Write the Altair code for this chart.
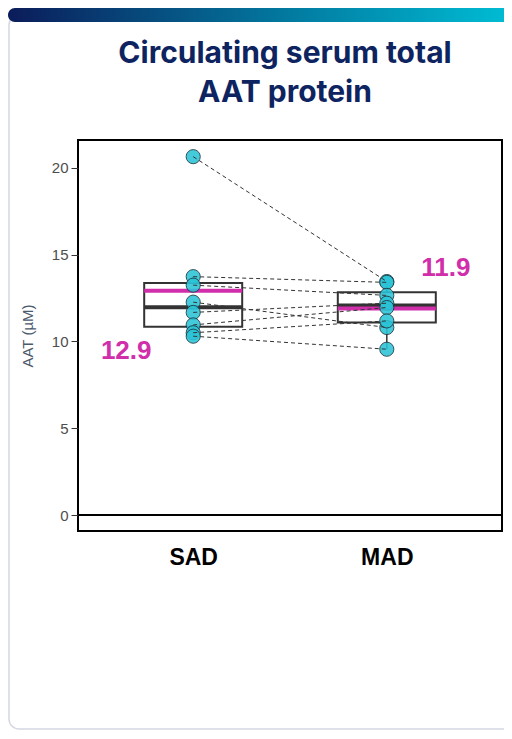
import altair as alt
import pandas as pd

# ---- data ----
groups = ["SAD", "MAD"]
subjects = [1, 2, 3, 4, 5, 6, 7, 8]
sad_values = [20.64, 13.73, 13.24, 12.26, 11.67, 10.95, 10.5, 10.3]
mad_values = [13.45, 13.4, 12.65, 10.8, 12.2, 11.95, 11.18, 9.55]
y_ticks = [0, 5, 10, 15, 20]
title_line1 = "Circulating serum total"
title_line2 = "AAT protein"
y_title = "AAT (µM)"

rows = []
for s, v in zip(subjects, sad_values):
    rows.append({"group": "SAD", "subject": s, "value": v})
for s, v in zip(subjects, mad_values):
    rows.append({"group": "MAD", "subject": s, "value": v})
df = pd.DataFrame(rows)

PINK = "#d02eaa"
CYAN = "#2ac4d8"
NAVY = "#0d2461"

xscale = alt.Scale(type="point", domain=groups, padding=0.595)
yscale = alt.Scale(domain=[-0.92, 21.6], nice=False, zero=False)

xenc = alt.X("group:N", scale=xscale, sort=groups,
             axis=alt.Axis(title=None, labelFontSize=23, labelFontWeight="bold",
                           labelColor="black", ticks=False, domain=False,
                           labelPadding=15, labelAngle=0, labelFont="Liberation Sans"))
yenc = alt.Y("value:Q", scale=yscale,
             axis=alt.Axis(title=y_title, values=y_ticks, grid=False, domain=False,
                           labelFont="Liberation Sans", labelFontSize=15, labelColor="#4d4d4d",
                           tickColor="#333333", tickSize=7, tickWidth=1, labelPadding=3,
                           titleFont="Liberation Sans", titleFontSize=15, titleFontWeight="normal",
                           titleColor="#4b5a6c", titlePadding=16))

base = alt.Chart(df)
deco = alt.Chart(alt.Data(values=[{"k": 1}]))

card = deco.mark_rect(filled=False, stroke="#d5d8e4", strokeWidth=1.5, cornerRadius=10).encode(
    x=alt.value(-69), x2=alt.value(440), y=alt.value(-125), y2=alt.value(589))

bar = deco.mark_rect(
    cornerRadius=7,
    color=alt.Gradient(gradient="linear",
                       stops=[alt.GradientStop(color="#0b1c5a", offset=0),
                              alt.GradientStop(color="#03729a", offset=0.5),
                              alt.GradientStop(color="#00bfd6", offset=1)],
                       x1=0, x2=1, y1=0, y2=0)).encode(
    x=alt.value(-70), x2=alt.value(440), y=alt.value(-132), y2=alt.value(-118))

title_style = dict(fontSize=30, font="Inter", fontWeight="bold", color=NAVY, align="center",
                   baseline="alphabetic")
t1 = deco.mark_text(**title_style).encode(x=alt.value(207), y=alt.value(-77), text=alt.value(title_line1))
t2 = deco.mark_text(**title_style).encode(x=alt.value(207), y=alt.value(-38), text=alt.value(title_line2))

zero = base.mark_rule(color="black", strokeWidth=2).encode(y=alt.datum(0, type="quantitative", scale=yscale))

box = base.mark_boxplot(
    size=98, extent=1.5, outliers=False, opacity=1,
    box={"color": "white", "stroke": "#333333", "strokeWidth": 2, "opacity": 1},
    median={"color": "#333333", "thickness": 4, "opacity": 1},
    rule={"color": "#333333", "strokeWidth": 1.5},
).encode(x=xenc, y=yenc)

mean_tick = base.mark_tick(color=PINK, size=98, thickness=4, opacity=1).encode(
    x=xenc, y=alt.Y("mean(value):Q", scale=yscale))

points = base.mark_circle(size=200, color=CYAN, opacity=0.88, stroke="#1b3a42", strokeWidth=1).encode(
    x=xenc, y=alt.Y("value:Q", scale=yscale))

lines = base.mark_line(color="#333333", strokeWidth=1, strokeDash=[4, 3]).encode(
    x=xenc, y=alt.Y("value:Q", scale=yscale), detail="subject:N",
    order=alt.Order("group:N", sort="descending"))

lab_sad = base.transform_filter(alt.datum.group == "SAD").mark_text(
    dx=-67, dy=60, fontSize=26, fontWeight="bold", font="Liberation Sans", color=PINK).encode(
    x=xenc, y=alt.Y("mean(value):Q", scale=yscale),
    text=alt.Text("mean(value):Q", format=".1f"))

lab_mad = base.transform_filter(alt.datum.group == "MAD").mark_text(
    dx=59, dy=-40, fontSize=26, fontWeight="bold", font="Liberation Sans", color=PINK).encode(
    x=xenc, y=alt.Y("mean(value):Q", scale=yscale),
    text=alt.Text("mean(value):Q", format=".1f"))

chart = alt.layer(card, bar, t1, t2, zero, box, mean_tick, points, lines, lab_sad, lab_mad).properties(
    width=424, height=391,
    padding={"left": 70, "top": 132, "right": 2, "bottom": 200},
    autosize=alt.AutoSizeParams(type="none"),
).configure_view(stroke="black", strokeWidth=2)

chart.save("out.html", embed_options={"renderer": "svg", "actions": False})
